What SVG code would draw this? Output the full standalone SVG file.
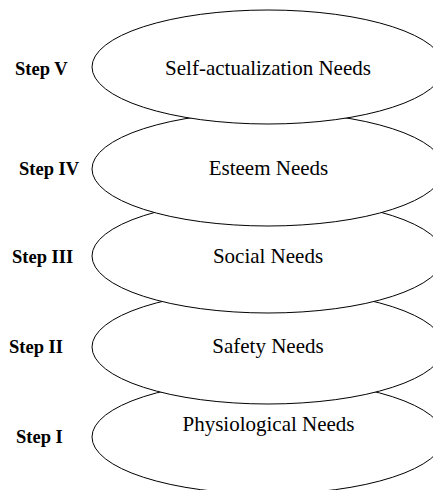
<svg xmlns="http://www.w3.org/2000/svg" width="433" height="490" viewBox="0 0 433 490">
<style>
.e{fill:#fff;stroke:#000;stroke-width:1}
.n{font-family:"Liberation Serif","Times New Roman",serif;font-size:21px;text-anchor:middle;fill:#000}
.s{font-family:"Liberation Serif","Times New Roman",serif;font-size:18.5px;font-weight:bold;fill:#000}
</style>
<rect width="433" height="490" fill="#fff"/>
<g id="step1">
<ellipse class="e" cx="268" cy="437" rx="176" ry="57"/>
<text class="n" x="268.5" y="431">Physiological Needs</text>
<text class="s" x="16" y="443">Step I</text>
</g>
<g id="step2">
<ellipse class="e" cx="268" cy="347" rx="176" ry="57"/>
<text class="n" x="268" y="353">Safety Needs</text>
<text class="s" x="9" y="353">Step II</text>
</g>
<g id="step3">
<ellipse class="e" cx="268" cy="256" rx="176" ry="57"/>
<text class="n" x="268" y="262.5">Social Needs</text>
<text class="s" x="12" y="262.5">Step III</text>
</g>
<g id="step4">
<ellipse class="e" cx="268" cy="169" rx="176" ry="57"/>
<text class="n" x="268.5" y="175">Esteem Needs</text>
<text class="s" x="19" y="175">Step IV</text>
</g>
<g id="step5">
<ellipse class="e" cx="268" cy="67" rx="176" ry="57"/>
<text class="n" x="268" y="75">Self-actualization Needs</text>
<text class="s" x="15" y="75">Step V</text>
</g>
</svg>
